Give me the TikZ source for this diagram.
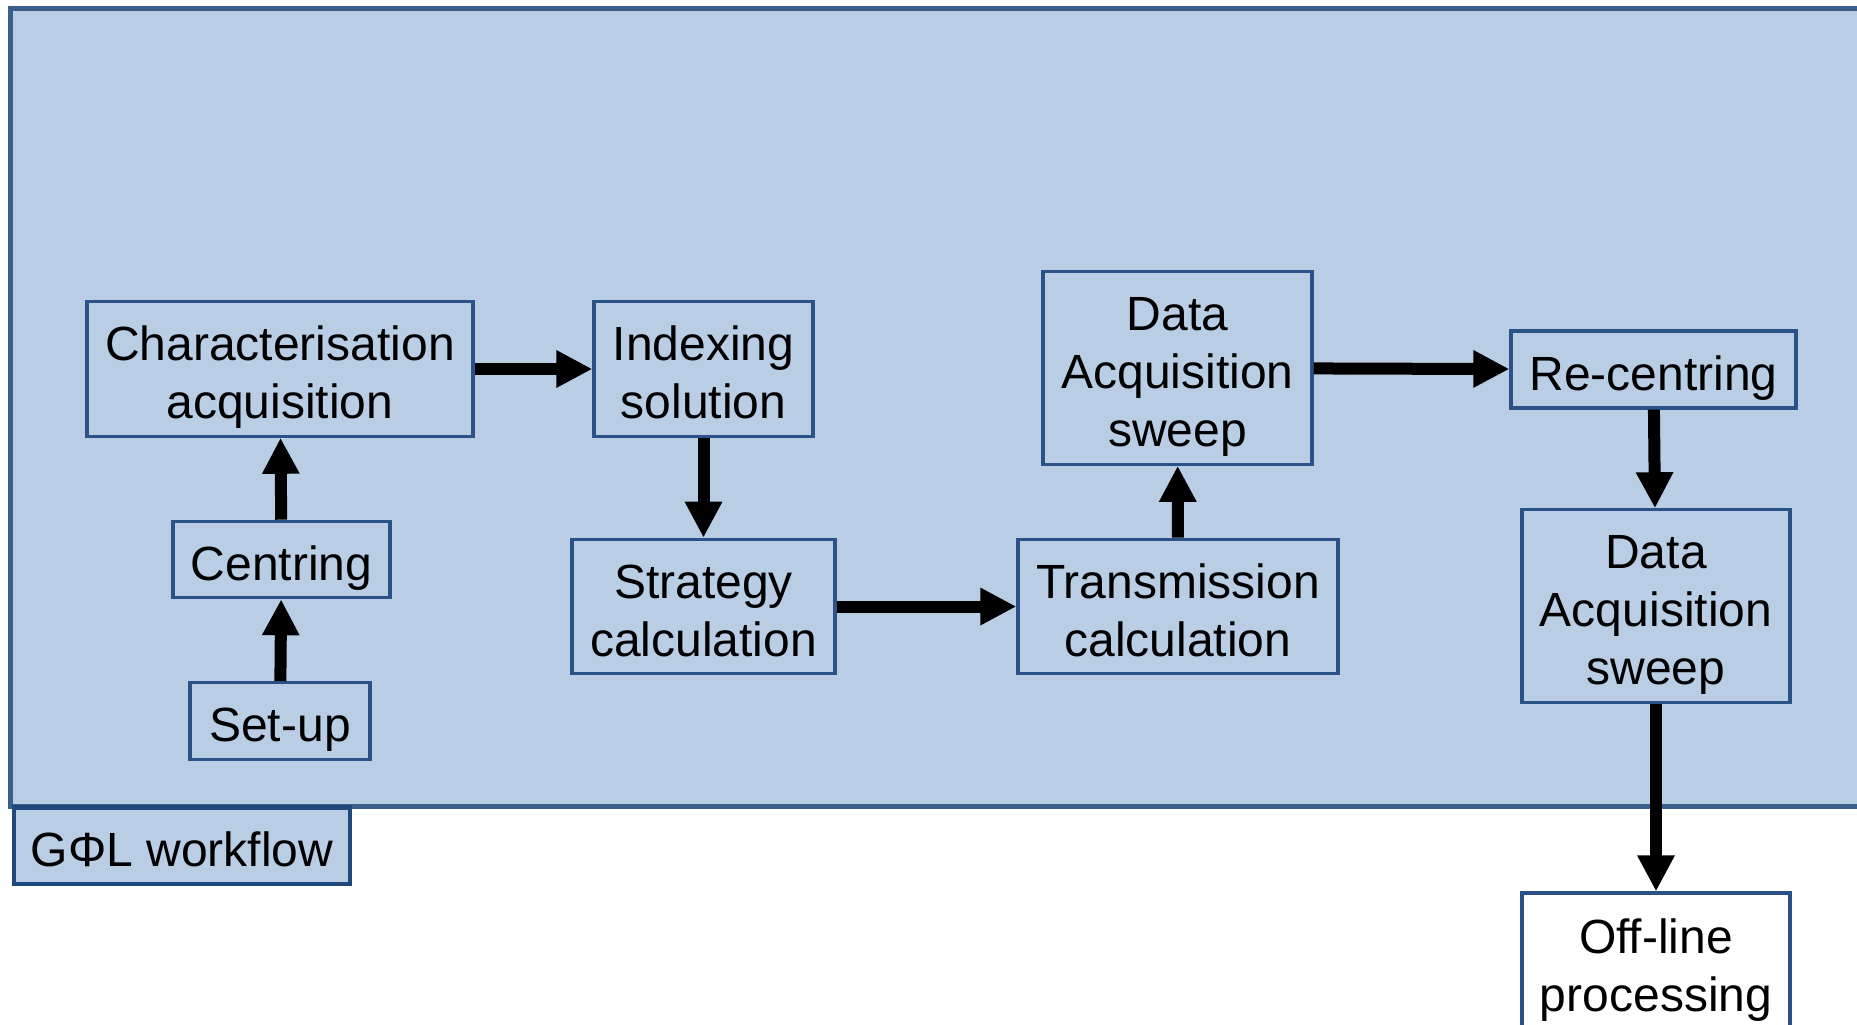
\documentclass[tikz,border=0pt]{standalone}
\usepackage{fontspec}
\setmainfont{Liberation Sans}
\usetikzlibrary{arrows.meta}

\definecolor{frameFill}{HTML}{B9CDE5}
\definecolor{frameLine}{HTML}{3A5F8B}
\definecolor{boxLine}{HTML}{2A5289}
\definecolor{tagLine}{HTML}{1F497D}

% centred lines, spaced as the boxes want them
\newcommand{\stagetext}[1]{\begin{tabular}{@{}c@{}}\rule{0pt}{29.5pt}#1\end{tabular}}

\tikzset{
  stage/.style={draw=boxLine, line width=1.6pt, inner sep=0pt,
    font=\fontsize{24}{29}\selectfont},
  flow/.style={line width=6pt, -{Triangle[length=18pt,width=17.5pt]}},
}

\begin{document}
\begin{tikzpicture}[x=0.5pt,y=0.5pt,yscale=-1,xscale=1]
%set diagram size to 1857 x 1024
\clip (0,0) rectangle (1857,1024);
\fill[white] (0,0) rectangle (1857,1024);

%Workflow frame
\draw [draw=frameLine, fill=frameFill, line width=2.5pt] (10,8.5) rectangle (1890,806);

% Stage Nodes
\node (char) at (280,369) [stage, minimum width=193pt, minimum height=66pt] {\stagetext{Characterisation\\acquisition}};
\node (index) at (703.5,369) [stage, minimum width=109.5pt, minimum height=66pt] {\stagetext{Indexing\\solution}};
\node (centring) at (281.5,559.5) [stage, minimum width=108.5pt, minimum height=37.5pt] {\stagetext{Centring}};
\node (setup) at (280,721) [stage, minimum width=90pt, minimum height=37pt] {\stagetext{Set-up}};
\node (strategy) at (703.5,606.5) [stage, minimum width=131.5pt, minimum height=66.5pt] {\stagetext{Strategy\\calculation}};
\node (transm) at (1178,606.5) [stage, minimum width=160pt, minimum height=66.5pt] {\stagetext{Transmission\\calculation}};
\node (sweepA) at (1177.5,368) [stage, minimum width=134.5pt, minimum height=95pt] {\stagetext{Data\\Acquisition\\sweep}};
\node (recentr) at (1653.5,369.5) [stage, minimum width=142.5pt, minimum height=38.5pt] {\stagetext{Re-centring}};
\node (sweepB) at (1656,606) [stage, minimum width=134pt, minimum height=95pt] {\stagetext{Data\\Acquisition\\sweep}};
\node (offline) at (1656,962) [stage, fill=white, minimum width=134pt, minimum height=69pt] {\stagetext{Off-line\\processing}};

% Frame label
\node (tag) at (182,845.5) [stage, draw=tagLine, line width=2.2pt, fill=frameFill, minimum width=168pt, minimum height=38pt] {\stagetext{GΦL workflow}};

% Arrows
\draw [flow] (setup) -- (centring);
\draw [flow] (centring) -- (char);
\draw [flow] (char) -- (index);
\draw [flow] (index) -- (strategy);
\draw [flow] (strategy) -- (transm);
\draw [flow] (transm) -- (sweepA);
\draw [flow] (sweepA) -- (recentr);
\draw [flow] (recentr) -- (sweepB);
\draw [flow] (sweepB) -- (offline);

\end{tikzpicture}
\end{document}
